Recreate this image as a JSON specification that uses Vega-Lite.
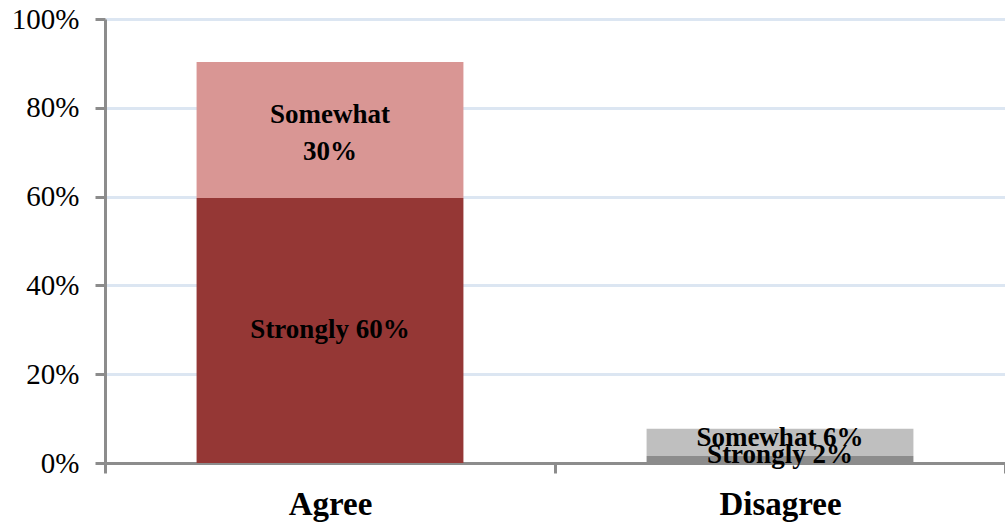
{
  "$schema": "https://vega.github.io/schema/vega-lite/v6.json",
  "width": 900,
  "height": 444,
  "autosize": "none",
  "padding": {"left": 105, "top": 19, "right": 0, "bottom": 64},
  "background": "white",
  "config": {"view": {"stroke": null}, "font": "Liberation Serif"},
  "data": {
    "values": [
      {"response": "Agree", "level": "Strongly", "order": 1, "value": 59.7, "label": "Strongly 60%", "group": "a"},
      {"response": "Agree", "level": "Somewhat", "order": 2, "value": 30.6, "label": "Somewhat\n30%", "group": "b"},
      {"response": "Disagree", "level": "Strongly", "order": 1, "value": 1.6, "label": "Strongly 2%", "group": "c"},
      {"response": "Disagree", "level": "Somewhat", "order": 2, "value": 6.1, "label": "Somewhat 6%", "group": "c"}
    ]
  },
  "encoding": {
    "x": {
      "field": "response",
      "type": "nominal",
      "sort": ["Agree", "Disagree"],
      "scale": {"paddingInner": 0, "paddingOuter": 0},
      "axis": {
        "title": null,
        "labelAngle": 0,
        "labelFont": "Liberation Serif",
        "labelFontSize": 33,
        "labelFontWeight": "bold",
        "labelColor": "black",
        "labelPadding": 15,
        "tickBand": "extent",
        "tickSize": 10,
        "tickWidth": 3,
        "tickColor": "#8c8c8c",
        "domainColor": "#8c8c8c",
        "domainWidth": 3,
        "grid": false
      }
    },
    "y": {
      "field": "value",
      "type": "quantitative",
      "stack": "zero",
      "scale": {"domain": [0, 100], "nice": false},
      "axis": {
        "title": null,
        "values": [0, 20, 40, 60, 80, 100],
        "labelExpr": "datum.value + '%'",
        "labelFont": "Liberation Serif",
        "labelFontSize": 29,
        "labelColor": "black",
        "labelPadding": 16,
        "tickSize": 10,
        "tickWidth": 3,
        "tickColor": "#8c8c8c",
        "domainColor": "#8c8c8c",
        "domainWidth": 3,
        "grid": true,
        "gridColor": "#dce6f2",
        "gridWidth": 3
      }
    },
    "order": {"field": "order", "type": "quantitative"}
  },
  "layer": [
    {
      "mark": {"type": "bar", "width": {"band": 0.593}},
      "encoding": {
        "color": {
          "condition": [
            {"test": "datum.response === 'Agree' && datum.level === 'Strongly'", "value": "#953735"},
            {"test": "datum.response === 'Agree' && datum.level === 'Somewhat'", "value": "#d99694"},
            {"test": "datum.response === 'Disagree' && datum.level === 'Strongly'", "value": "#8c8c8c"}
          ],
          "value": "#bfbfbf"
        }
      }
    },
    {
      "mark": {"type": "text", "font": "Liberation Serif", "fontSize": 27, "fontWeight": "bold", "color": "black", "baseline": "middle", "align": "center"},
      "encoding": {
        "y": {"field": "value", "type": "quantitative", "stack": "zero", "bandPosition": 0.5},
        "text": {"condition": {"test": "datum.group === 'a'", "field": "label"}, "value": ""}
      }
    },
    {
      "mark": {"type": "text", "font": "Liberation Serif", "fontSize": 27, "fontWeight": "bold", "color": "black", "lineBreak": "\n", "lineHeight": 37, "baseline": "middle", "align": "center", "dy": -15},
      "encoding": {
        "y": {"field": "value", "type": "quantitative", "stack": "zero", "bandPosition": 0.5},
        "text": {"condition": {"test": "datum.group === 'b'", "field": "label"}, "value": ""}
      }
    },
    {
      "mark": {"type": "text", "font": "Liberation Serif", "fontSize": 27, "fontWeight": "bold", "color": "black", "baseline": "middle", "align": "center", "dy": -4},
      "encoding": {
        "y": {"field": "value", "type": "quantitative", "stack": "zero", "bandPosition": 0.5},
        "text": {"condition": {"test": "datum.group === 'c'", "field": "label"}, "value": ""}
      }
    }
  ]
}
